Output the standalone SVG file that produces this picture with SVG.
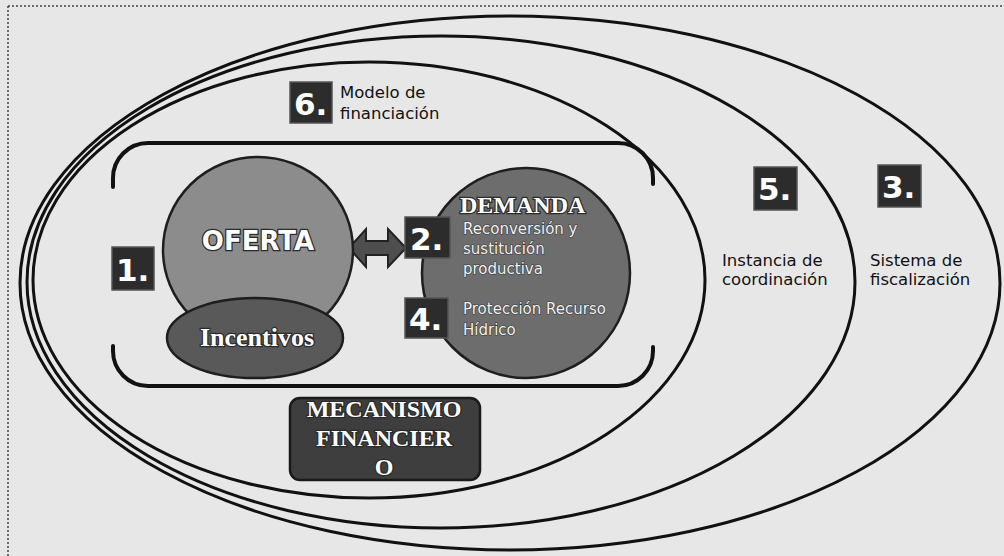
<svg xmlns="http://www.w3.org/2000/svg" width="1004" height="556" viewBox="0 0 1004 556">
  <style>
    .ring { fill: none; stroke: #111; stroke-width: 3; }
    .bracket { fill: none; stroke: #111; stroke-width: 4; stroke-linecap: round; }
    .numbox { fill: #2c2c2c; stroke: #555; stroke-width: 1.5; }
    .num { font-family: "DejaVu Sans", "Liberation Sans", sans-serif; font-weight: bold; font-size: 31px; fill: #ffffff; }
    .lbl { font-family: "DejaVu Sans", "Liberation Sans", sans-serif; font-size: 16.5px; fill: #111; }
    .inlbl { font-family: "DejaVu Sans", "Liberation Sans", sans-serif; font-size: 15px; fill: #f2f2f2; stroke: #3a3a3a; stroke-width: 1.2px; paint-order: stroke; }
    .big { font-weight: bold; fill: #ffffff; stroke: #2a2a2a; stroke-width: 2.5px; paint-order: stroke; }
    .serif { font-family: "Liberation Serif", "DejaVu Serif", serif; }
    .sans { font-family: "DejaVu Sans", "Liberation Sans", sans-serif; }
  </style>

  <rect x="0" y="0" width="1004" height="556" fill="#e7e7e7"/>
  <path d="M8,6 H1004 M8,6 V556" fill="none" stroke="#444" stroke-width="1.5" stroke-dasharray="2 2"/>

  <g id="rings">
    <ellipse id="ring-3" class="ring" cx="510" cy="283" rx="490" ry="267"/>
    <ellipse id="ring-5" class="ring" cx="441" cy="282" rx="414" ry="246"/>
    <ellipse id="ring-6" class="ring" cx="369" cy="280" rx="336" ry="218"/>
  </g>

  <g id="frame">
    <path class="bracket" d="M113,187 V178 A35,35 0 0 1 148,143 H618 A35,35 0 0 1 653,178 V184"/>
    <path class="bracket" d="M113,346 V351 A35,35 0 0 0 148,386 H618 A35,35 0 0 0 653,351 V347"/>
  </g>

  <g id="connectors">
    <path d="M349,248 L366,229 L366,241 L388,241 L388,229 L406,248 L388,267 L388,255 L366,255 L366,267 Z" fill="#4e4e4e" stroke="#222" stroke-width="2"/>
  </g>

  <g id="oferta">
    <ellipse cx="258" cy="250" rx="95" ry="93" fill="#8c8c8c" stroke="#1e1e1e" stroke-width="2.5"/>
    <text class="sans big" x="258" y="250" font-size="26" text-anchor="middle">OFERTA</text>
  </g>

  <g id="incentivos">
    <ellipse cx="255" cy="338" rx="88" ry="40" fill="#595959" stroke="#1e1e1e" stroke-width="2.5"/>
    <text class="serif big" x="257" y="346" font-size="26" text-anchor="middle">Incentivos</text>
  </g>

  <g id="demanda">
    <ellipse cx="526" cy="273" rx="104" ry="105" fill="#6d6d6d" stroke="#1e1e1e" stroke-width="2.5"/>
    <text class="serif big" x="460" y="213" font-size="24">DEMANDA</text>
    <text class="inlbl" x="463" y="234">Reconversión y</text>
    <text class="inlbl" x="463" y="254">sustitución</text>
    <text class="inlbl" x="463" y="274">productiva</text>
    <text class="inlbl" x="463" y="314">Protección Recurso</text>
    <text class="inlbl" x="463" y="335">Hídrico</text>
  </g>

  <g id="n1">
    <rect class="numbox" x="112" y="247" width="42" height="43"/>
    <text class="num" x="116" y="281">1.</text>
  </g>
  <g id="n2">
    <rect class="numbox" x="405" y="217" width="45" height="41"/>
    <text class="num" x="410" y="250">2.</text>
  </g>
  <g id="n4">
    <rect class="numbox" x="405" y="298" width="43" height="40"/>
    <text class="num" x="409" y="330">4.</text>
  </g>

  <g id="mecanismo">
    <rect x="290" y="398" width="190" height="82" rx="10" fill="#3e3e3e" stroke="#1a1a1a" stroke-width="2.5"/>
    <text class="serif big" x="384" y="417" font-size="24" text-anchor="middle">MECANISMO</text>
    <text class="serif big" x="384" y="446" font-size="24" text-anchor="middle">FINANCIER</text>
    <text class="serif big" x="384" y="475" font-size="24" text-anchor="middle">O</text>
  </g>

  <g id="n6">
    <rect class="numbox" x="290" y="82" width="42" height="41"/>
    <text class="num" x="294" y="115">6.</text>
    <text class="lbl" x="340" y="98">Modelo de</text>
    <text class="lbl" x="340" y="119">financiación</text>
  </g>

  <g id="n5">
    <rect class="numbox" x="754" y="167" width="43" height="43"/>
    <text class="num" x="758" y="200">5.</text>
    <text class="lbl" x="722" y="266">Instancia de</text>
    <text class="lbl" x="722" y="285">coordinación</text>
  </g>

  <g id="n3">
    <rect class="numbox" x="878" y="165" width="43" height="42"/>
    <text class="num" x="882" y="198">3.</text>
    <text class="lbl" x="870" y="266">Sistema de</text>
    <text class="lbl" x="870" y="285">fiscalización</text>
  </g>
</svg>
